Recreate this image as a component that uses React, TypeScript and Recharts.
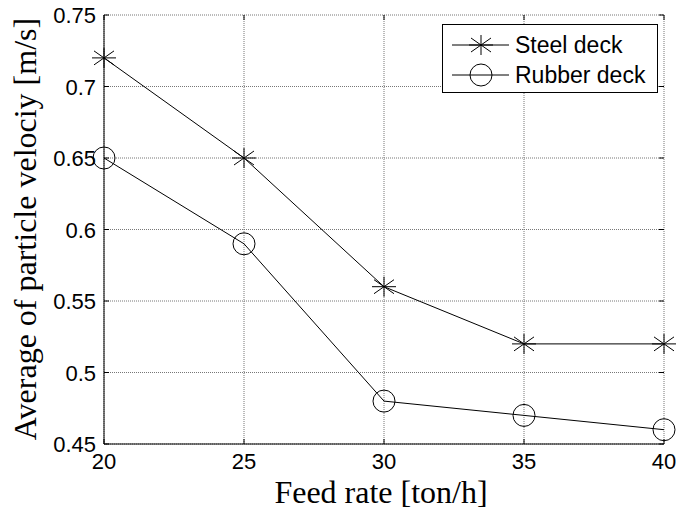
import React from "react";
import {
  LineChart,
  Line,
  XAxis,
  YAxis,
  CartesianGrid,
} from "recharts";

const feedRates = [20, 25, 30, 35, 40];
const steelDeck = [0.72, 0.65, 0.56, 0.52, 0.52];
const rubberDeck = [0.65, 0.59, 0.48, 0.47, 0.46];
const xTicks = [20, 25, 30, 35, 40];
const yTicks = [0.45, 0.5, 0.55, 0.6, 0.65, 0.7, 0.75];

const data = feedRates.map((f, i) => ({
  feed: f,
  steel: steelDeck[i],
  rubber: rubberDeck[i],
}));

const W = 678;
const H = 513;
const LEFT = 104;
const RIGHT = 664;
const TOP = 15;
const BOTTOM = 444;

const sans = "'Liberation Sans', Arial, sans-serif";
const serif = "'Liberation Serif', 'Times New Roman', serif";

function Star({ cx, cy }: { cx?: number; cy?: number }) {
  if (cx == null || cy == null) return null;
  return (
    <g stroke="#000" strokeWidth={1} fill="none">
      <line x1={cx - 12} y1={cy} x2={cx + 12} y2={cy} />
      <line x1={cx} y1={cy - 10} x2={cx} y2={cy + 10} />
      <line x1={cx - 10} y1={cy - 7} x2={cx + 10} y2={cy + 7} />
      <line x1={cx - 10} y1={cy + 7} x2={cx + 10} y2={cy - 7} />
    </g>
  );
}

function Circle({ cx, cy }: { cx?: number; cy?: number }) {
  if (cx == null || cy == null) return null;
  return <circle cx={cx} cy={cy} r={11} stroke="#000" strokeWidth={1} fill="none" />;
}

function XTick(props: any) {
  const { x, payload } = props;
  return (
    <g>
      <line x1={x} y1={BOTTOM} x2={x} y2={BOTTOM - 5} stroke="#000" />
      <line x1={x} y1={TOP} x2={x} y2={TOP + 5} stroke="#000" />
      <text
        x={x}
        y={BOTTOM + 25}
        textAnchor="middle"
        fontFamily={sans}
        fontSize={22}
        fill="#000"
      >
        {payload.value}
      </text>
    </g>
  );
}

function YTick(props: any) {
  const { y, payload } = props;
  return (
    <g>
      <line x1={LEFT} y1={y} x2={LEFT + 5} y2={y} stroke="#000" />
      <line x1={RIGHT} y1={y} x2={RIGHT - 5} y2={y} stroke="#000" />
      <text
        x={LEFT - 8}
        y={y + 8}
        textAnchor="end"
        fontFamily={sans}
        fontSize={22}
        fill="#000"
      >
        {payload.value}
      </text>
    </g>
  );
}

function LegendBox() {
  const rows = [
    { name: "Steel deck", Marker: Star },
    { name: "Rubber deck", Marker: Circle },
  ];
  return (
    <div
      style={{
        position: "absolute",
        left: 442,
        top: 24,
        width: 216,
        height: 69,
        boxSizing: "border-box",
        border: "1px solid #000",
        background: "#fff",
        paddingTop: 5,
      }}
    >
      {rows.map(({ name, Marker }) => (
        <div key={name} style={{ display: "flex", alignItems: "center", height: 30 }}>
          <svg width={72} height={30} style={{ display: "block" }}>
            <line x1={9} y1={15} x2={66} y2={15} stroke="#000" />
            <Marker cx={38} cy={15} />
          </svg>
          <span style={{ fontFamily: sans, fontSize: 23, color: "#000", lineHeight: "30px" }}>
            {name}
          </span>
        </div>
      ))}
    </div>
  );
}

export default function App() {
  return (
    <div style={{ position: "absolute", left: 0, top: 0, width: W, height: H, background: "#fff" }}>
      <LineChart
        width={W}
        height={H}
        data={data}
        margin={{ top: TOP, right: W - RIGHT, bottom: 0, left: 0 }}
      >
        <CartesianGrid stroke="#777" strokeDasharray="1 1" />
        <XAxis
          dataKey="feed"
          type="number"
          domain={[20, 40]}
          ticks={xTicks}
          height={H - BOTTOM}
          axisLine={{ stroke: "#000" }}
          tickLine={false}
          tick={<XTick />}
          interval={0}
          label={{
            content: () => (
              <text x={381} y={503} textAnchor="middle" fontFamily={serif} fontSize={32} fill="#000">
                Feed rate [ton/h]
              </text>
            ),
          }}
        />
        <YAxis
          type="number"
          domain={[0.45, 0.75]}
          ticks={yTicks}
          width={LEFT}
          axisLine={{ stroke: "#000" }}
          tickLine={false}
          tick={<YTick />}
          interval={0}
          label={{
            content: () => (
              <text
                x={36}
                y={229}
                transform="rotate(-90, 36, 229)"
                textAnchor="middle"
                fontFamily={serif}
                fontSize={32}
                fill="#000"
              >
                Average of particle velociy [m/s]
              </text>
            ),
          }}
        />
        <Line
          dataKey="steel"
          stroke="#000"
          strokeWidth={1}
          dot={(p: any) => <Star key={`s${p.index}`} cx={p.cx} cy={p.cy} />}
          activeDot={false}
          isAnimationActive={false}
        />
        <Line
          dataKey="rubber"
          stroke="#000"
          strokeWidth={1}
          dot={(p: any) => <Circle key={`r${p.index}`} cx={p.cx} cy={p.cy} />}
          activeDot={false}
          isAnimationActive={false}
        />
      </LineChart>
      <LegendBox />
    </div>
  );
}
